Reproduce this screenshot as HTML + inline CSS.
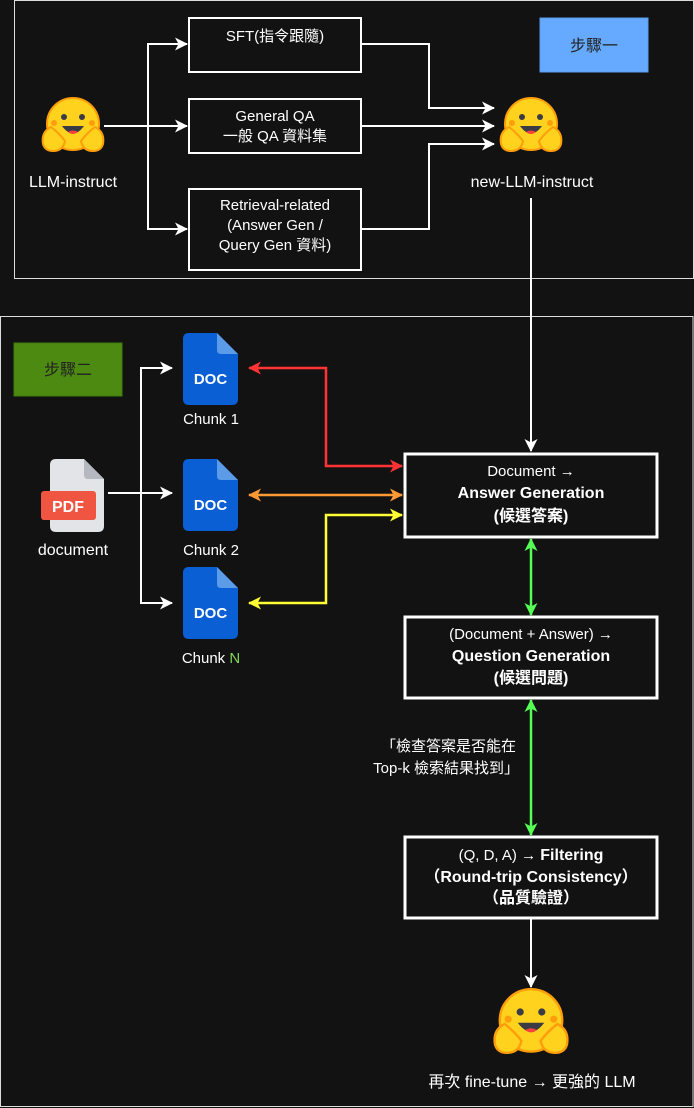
<!DOCTYPE html>
<html><head><meta charset="utf-8"><style>
html,body{margin:0;padding:0;background:#121212;}
svg{display:block}
text{font-family:"Liberation Sans","Noto Sans CJK TC",sans-serif;fill:#fff;font-size:15px;text-anchor:middle}
.b{font-weight:bold}
</style></head><body>
<svg width="694" height="1108" viewBox="0 0 694 1108" xmlns="http://www.w3.org/2000/svg">
<defs>
<marker id="aw" markerWidth="13" markerHeight="13" refX="12" refY="6.5" orient="auto-start-reverse" markerUnits="userSpaceOnUse"><path d="M0,0 L13,6.5 L0,13 L3.5,6.5 Z" fill="#fff"/></marker>
<marker id="ar" markerWidth="13" markerHeight="13" refX="12" refY="6.5" orient="auto-start-reverse" markerUnits="userSpaceOnUse"><path d="M0,0 L13,6.5 L0,13 L3.5,6.5 Z" fill="#f33"/></marker>
<marker id="ao" markerWidth="13" markerHeight="13" refX="12" refY="6.5" orient="auto-start-reverse" markerUnits="userSpaceOnUse"><path d="M0,0 L13,6.5 L0,13 L3.5,6.5 Z" fill="#f93"/></marker>
<marker id="ay" markerWidth="13" markerHeight="13" refX="12" refY="6.5" orient="auto-start-reverse" markerUnits="userSpaceOnUse"><path d="M0,0 L13,6.5 L0,13 L3.5,6.5 Z" fill="#ff3"/></marker>
<marker id="ag" markerWidth="13" markerHeight="13" refX="12" refY="6.5" orient="auto-start-reverse" markerUnits="userSpaceOnUse"><path d="M0,0 L13,6.5 L0,13 L3.5,6.5 Z" fill="#5f5"/></marker>
<g id="hug">
<circle cx="0" cy="-3" r="26" fill="#ffd21e" stroke="#ff9d0b" stroke-width="2"/>
<circle cx="-9" cy="-10" r="3" fill="#3a3b45"/><circle cx="9" cy="-10" r="3" fill="#3a3b45"/>
<circle cx="-19" cy="-4" r="3" fill="#ff9d0b"/><circle cx="19" cy="-4" r="3" fill="#ff9d0b"/>
<path d="M-11,-1 Q0,14 11,-1 Z" fill="#3a3b45"/><path d="M-5,5 Q0,9 5,5 Q0,2 -5,5Z" fill="#f94040"/>
<path d="M-30,17 Q-32,5 -22,0 Q-14,6 -8,14 Q-10,24 -20,24 Q-28,24 -30,17Z" fill="#ffd21e" stroke="#ff9d0b" stroke-width="2"/>
<path d="M30,17 Q32,5 22,0 Q14,6 8,14 Q10,24 20,24 Q28,24 30,17Z" fill="#ffd21e" stroke="#ff9d0b" stroke-width="2"/>
</g>
<g id="doc">
<path d="M0,6 Q0,0 6,0 L34,0 L55,21 L55,66 Q55,72 49,72 L6,72 Q0,72 0,66 Z" fill="#0b5fd4"/>
<path d="M34,0 L55,21 L38,21 Q34,21 34,17 Z" fill="#5b9be8"/>
<text x="27.5" y="51" class="b" style="font-size:15px">DOC</text>
</g>
</defs>
<rect x="14.5" y="0.5" width="679" height="278" fill="none" stroke="#ddd" stroke-width="1"/>
<rect x="0.5" y="316.5" width="692.5" height="790" fill="none" stroke="#ddd" stroke-width="1"/>

<rect x="540" y="18" width="108" height="54" fill="#66aaff" stroke="#5a9be8"/>
<text x="594" y="51" style="fill:#222;font-size:16px">步驟一</text>
<g stroke="#fff" stroke-width="2" fill="#121212">
<rect x="189" y="18" width="172" height="54"/>
<rect x="189" y="99" width="172" height="54"/>
<rect x="189" y="189" width="172" height="81"/>
</g>
<text x="275" y="41">SFT(指令跟隨)</text>
<text x="275" y="121">General QA</text><text x="275" y="141">一般 QA 資料集</text>
<text x="275" y="210">Retrieval-related</text><text x="275" y="230">(Answer Gen /</text><text x="275" y="250">Query Gen 資料)</text>
<use href="#hug" x="73" y="127"/>
<text x="73" y="187" style="font-size:16px">LLM-instruct</text>
<use href="#hug" x="531" y="127"/>
<text x="532" y="187" style="font-size:16px">new-LLM-instruct</text>
<g stroke="#fff" stroke-width="2" fill="none">
<path d="M104,126 H187" marker-end="url(#aw)"/>
<path d="M187,44 H148 V229 H187" marker-end="url(#aw)"/>
<path d="M148,44 H187" marker-end="url(#aw)"/>
<path d="M361,44 H429 V108 H494" marker-end="url(#aw)"/>
<path d="M361,126 H494" marker-end="url(#aw)"/>
<path d="M361,229 H429 V144 H494" marker-end="url(#aw)"/>
<path d="M531,198 V451" marker-end="url(#aw)"/>
</g>

<rect x="14" y="343" width="108" height="53" fill="#4d8a12" stroke="#3f7a0e"/>
<text x="68" y="375" style="fill:#222;font-size:16px">步驟二</text>
<path d="M50,465 Q50,459 56,459 L84,459 L104,479 L104,526 Q104,532 98,532 L56,532 Q50,532 50,526Z" fill="#e3e4e8"/>
<path d="M84,459 L104,479 L88,479 Q84,479 84,475Z" fill="#b5b8c0"/>
<rect x="41" y="491" width="55" height="29" rx="3" fill="#f05542"/>
<text x="68" y="512" class="b" style="font-size:16px">PDF</text>
<text x="73" y="555" style="font-size:16px">document</text>
<use href="#doc" x="183" y="333"/>
<use href="#doc" x="183" y="459"/>
<use href="#doc" x="183" y="567"/>
<text x="211" y="424">Chunk 1</text>
<text x="211" y="555">Chunk 2</text>
<text x="211" y="663">Chunk <tspan style="fill:#7ed957">N</tspan></text>
<g stroke="#fff" stroke-width="2" fill="none">
<path d="M108,493 H172" marker-end="url(#aw)"/>
<path d="M172,368 H141 V603 H172" marker-end="url(#aw)"/>
<path d="M141,368 H172" marker-end="url(#aw)"/>
</g>
<path d="M402,466 H326 V368 H249" stroke="#f33" stroke-width="2.5" fill="none" marker-start="url(#ar)" marker-end="url(#ar)"/>
<path d="M402,495 H249" stroke="#f93" stroke-width="2.5" fill="none" marker-start="url(#ao)" marker-end="url(#ao)"/>
<path d="M402,515 H326 V603 H249" stroke="#ff3" stroke-width="2.5" fill="none" marker-start="url(#ay)" marker-end="url(#ay)"/>

<g stroke="#fff" stroke-width="3" fill="#121212">
<rect x="405" y="454" width="252" height="83"/>
<rect x="405" y="617" width="252" height="81"/>
<rect x="405" y="837" width="252" height="81"/>
</g>
<text x="531" y="476">Document →</text>
<text x="531" y="498" class="b" style="font-size:16px">Answer Generation</text>
<text x="531" y="521" class="b" style="font-size:16px">(候選答案)</text>
<text x="531" y="639">(Document + Answer) →</text>
<text x="531" y="661" class="b" style="font-size:16px">Question Generation</text>
<text x="531" y="683" class="b" style="font-size:16px">(候選問題)</text>
<text x="531" y="860"><tspan>(Q, D, A) → </tspan><tspan class="b" style="font-size:16px">Filtering</tspan></text>
<text x="531" y="882" class="b" style="font-size:16px">（Round-trip Consistency）</text>
<text x="531" y="903" class="b" style="font-size:16px">（品質驗證）</text>
<path d="M531,539 V615" stroke="#5f5" stroke-width="2.5" fill="none" marker-start="url(#ag)" marker-end="url(#ag)"/>
<path d="M531,700 V835" stroke="#5f5" stroke-width="2.5" fill="none" marker-start="url(#ag)" marker-end="url(#ag)"/>
<text x="516" y="751" style="text-anchor:end">「檢查答案是否能在</text>
<text x="519" y="773" style="text-anchor:end">Top-k 檢索結果找到」</text>
<path d="M531,919 V987" stroke="#fff" stroke-width="2" fill="none" marker-end="url(#aw)"/>
<use href="#hug" x="531" y="1024" transform="translate(-106.2 -204.8) scale(1.2)" style="transform-origin:0 0"/>
<text x="532" y="1087" style="font-size:16px">再次 fine-tune → 更強的 LLM</text>
</svg>
</body></html>
